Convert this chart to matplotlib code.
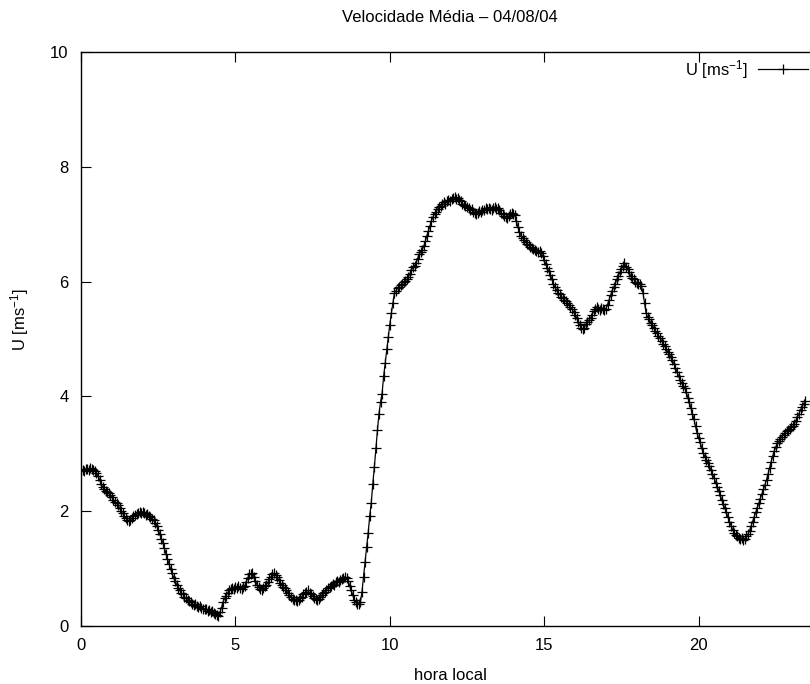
import numpy as np
import matplotlib
matplotlib.use("Agg")
import matplotlib.pyplot as plt

plt.rcParams['font.family'] = ['Liberation Sans', 'DejaVu Sans']
plt.rcParams['mathtext.default'] = 'regular'

# one value every 3 minutes (0.05 h), one row per hour
DT = 0.05
U = [
    2.71, 2.72, 2.70, 2.73, 2.74, 2.72, 2.75, 2.73, 2.71, 2.70, 2.66, 2.62, 2.55, 2.48, 2.42, 2.38, 2.36, 2.33, 2.31, 2.28,
    2.24, 2.20, 2.16, 2.14, 2.10, 2.05, 2.00, 1.96, 1.92, 1.88, 1.85, 1.83, 1.84, 1.88, 1.92, 1.93, 1.95, 1.97, 1.99, 1.97,
    1.99, 1.96, 1.94, 1.95, 1.92, 1.90, 1.86, 1.84, 1.80, 1.75, 1.68, 1.60, 1.52, 1.45, 1.36, 1.26, 1.17, 1.08, 1.00, 0.92,
    0.84, 0.78, 0.72, 0.67, 0.62, 0.58, 0.55, 0.51, 0.48, 0.45, 0.44, 0.41, 0.39, 0.37, 0.38, 0.35, 0.33, 0.34, 0.31, 0.30,
    0.29, 0.30, 0.27, 0.28, 0.25, 0.27, 0.23, 0.21, 0.19, 0.17, 0.24, 0.32, 0.42, 0.48, 0.53, 0.58, 0.62, 0.64, 0.66, 0.65,
    0.68, 0.66, 0.69, 0.67, 0.65, 0.68, 0.70, 0.76, 0.84, 0.90, 0.91, 0.92, 0.86, 0.78, 0.72, 0.68, 0.65, 0.63, 0.66, 0.70,
    0.72, 0.76, 0.82, 0.86, 0.90, 0.92, 0.89, 0.86, 0.80, 0.75, 0.72, 0.68, 0.66, 0.62, 0.58, 0.54, 0.50, 0.47, 0.46, 0.45,
    0.44, 0.46, 0.48, 0.51, 0.55, 0.58, 0.60, 0.62, 0.58, 0.55, 0.52, 0.49, 0.47, 0.45, 0.47, 0.50, 0.54, 0.57, 0.60, 0.63,
    0.66, 0.68, 0.70, 0.74, 0.72, 0.76, 0.78, 0.76, 0.80, 0.82, 0.84, 0.86, 0.84, 0.78, 0.70, 0.62, 0.54, 0.46, 0.41, 0.38,
    0.38, 0.42, 0.60, 0.86, 1.12, 1.38, 1.62, 1.92, 2.15, 2.48, 2.77, 3.10, 3.41, 3.70, 3.90, 4.05, 4.35, 4.58, 4.82, 5.03,
    5.25, 5.45, 5.62, 5.80, 5.84, 5.88, 5.91, 5.94, 5.96, 5.99, 6.01, 6.04, 6.08, 6.14, 6.20, 6.25, 6.28, 6.32, 6.40, 6.48,
    6.52, 6.55, 6.62, 6.70, 6.80, 6.88, 6.97, 7.06, 7.13, 7.18, 7.22, 7.26, 7.30, 7.32, 7.36, 7.38, 7.36, 7.40, 7.42, 7.41,
    7.44, 7.45, 7.47, 7.44, 7.46, 7.42, 7.40, 7.36, 7.34, 7.31, 7.30, 7.28, 7.25, 7.27, 7.22, 7.20, 7.17, 7.19, 7.23, 7.21,
    7.25, 7.24, 7.28, 7.26, 7.29, 7.27, 7.25, 7.28, 7.30, 7.27, 7.28, 7.24, 7.20, 7.17, 7.14, 7.12, 7.10, 7.14, 7.17, 7.20,
    7.18, 7.16, 7.05, 6.95, 6.86, 6.80, 6.76, 6.72, 6.69, 6.66, 6.63, 6.61, 6.58, 6.56, 6.55, 6.54, 6.52, 6.53, 6.50, 6.45,
    6.38, 6.30, 6.24, 6.18, 6.12, 6.04, 5.96, 5.90, 5.85, 5.80, 5.78, 5.74, 5.72, 5.68, 5.66, 5.63, 5.60, 5.56, 5.52, 5.47,
    5.42, 5.37, 5.30, 5.24, 5.20, 5.17, 5.20, 5.26, 5.30, 5.33, 5.37, 5.42, 5.48, 5.53, 5.56, 5.52, 5.50, 5.54, 5.52, 5.50,
    5.52, 5.60, 5.68, 5.76, 5.84, 5.90, 5.96, 6.04, 6.10, 6.16, 6.22, 6.28, 6.32, 6.26, 6.22, 6.16, 6.10, 6.06, 6.04, 6.00,
    5.98, 5.96, 5.95, 5.92, 5.80, 5.62, 5.45, 5.38, 5.34, 5.28, 5.24, 5.19, 5.14, 5.10, 5.06, 5.02, 4.97, 4.92, 4.88, 4.82,
    4.78, 4.74, 4.68, 4.63, 4.57, 4.50, 4.42, 4.36, 4.29, 4.23, 4.18, 4.14, 4.08, 3.98, 3.90, 3.80, 3.70, 3.60, 3.48, 3.36,
    3.28, 3.20, 3.10, 3.02, 2.95, 2.90, 2.84, 2.78, 2.72, 2.65, 2.58, 2.50, 2.43, 2.36, 2.28, 2.20, 2.12, 2.05, 1.98, 1.90,
    1.82, 1.75, 1.68, 1.62, 1.58, 1.56, 1.54, 1.52, 1.53, 1.50, 1.52, 1.56, 1.60, 1.66, 1.74, 1.82, 1.90, 1.98, 2.06, 2.14,
    2.22, 2.30, 2.38, 2.46, 2.55, 2.65, 2.76, 2.86, 2.96, 3.05, 3.12, 3.18, 3.22, 3.26, 3.30, 3.33, 3.36, 3.39, 3.42, 3.44,
    3.46, 3.48, 3.52, 3.58, 3.64, 3.70, 3.76, 3.82, 3.87, 3.92,
]
hours = np.arange(len(U)) * DT

x_ticks = [0, 5, 10, 15, 20]
y_ticks = [0, 2, 4, 6, 8, 10]

W, H = 810, 684
fig = plt.figure(figsize=(W / 100, H / 100), dpi=100)
# plot area runs past the right edge of the image, like the cropped original
ax = fig.add_axes([81 / W, 58 / H, 772 / W, 574 / H])

line, = ax.plot(hours, U, color='black', lw=0.9, marker='+', ms=7, mew=0.9,
                label='U [ms$^{-1}$]')

ax.set_xlim(0, 25)
ax.set_ylim(0, 10)
ax.set_xticks(x_ticks)
ax.set_yticks(y_ticks)
ax.tick_params(direction='in', length=7, width=0.8, labelsize=12, pad=9,
               top=True, right=True, colors='black')
for s in ax.spines.values():
    s.set_linewidth(1.0)

fig.text(450 / W, 1 - 17 / H, 'Velocidade Média – 04/08/04', ha='center', va='center', fontsize=12)
fig.text(450 / W, 1 - 675 / H, 'hora local', ha='center', va='center', fontsize=12)
fig.text(20 / W, 1 - 320 / H, 'U [ms$^{-1}$]', ha='center', va='center', rotation=90, fontsize=12)

ax.legend(handles=[line], loc='upper right', bbox_to_anchor=(808 / W, 1 - 58 / H),
          bbox_transform=fig.transFigure, frameon=False, markerfirst=False,
          numpoints=1, handlelength=3.0, handletextpad=0.6, borderpad=0,
          borderaxespad=0, fontsize=12)

fig.savefig('out.png', dpi=100)
